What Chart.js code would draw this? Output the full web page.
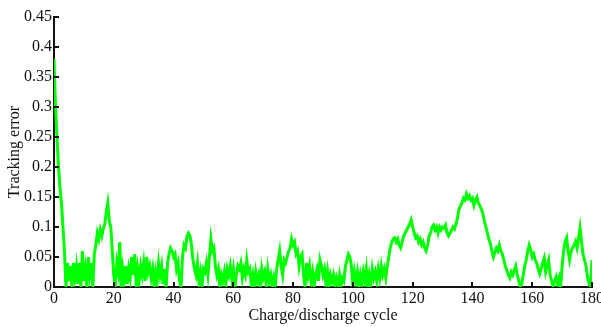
<!DOCTYPE html>
<html>
<head>
<meta charset="utf-8">
<script src="https://cdn.jsdelivr.net/npm/chart.js@4.4.1/dist/chart.umd.min.js"></script>
<style>
  html, body { margin: 0; padding: 0; background: #fff; }
  #wrap { width: 601px; height: 327px; }
</style>
</head>
<body>
<div id="wrap"><canvas id="can" width="601" height="327"></canvas></div>
<script>
// tracking error, one value every half cycle, 0 .. 180
const cycleStep = 0.5
const trackingError = [
  0.38, 0.30, 0.25, 0.20, 0.165, 0.14, 0.10, 0.06, 0.00, 0.04,
  0.01, 0.035, 0.00, 0.04, 0.015, 0.035, 0.005, 0.04, 0.00, 0.06,
  0.01, 0.03, 0.00, 0.05, 0.02, 0.04, 0.00, 0.055, 0.07, 0.09,
  0.08, 0.095, 0.085, 0.097, 0.105, 0.125, 0.14, 0.11, 0.10, 0.06,
  0.02, 0.00, 0.04, 0.025, 0.075, 0.00, 0.03, 0.01, 0.035, 0.005,
  0.03, 0.015, 0.05, 0.02, 0.055, 0.00, 0.03, 0.01, 0.035, 0.02,
  0.04, 0.01, 0.05, 0.025, 0.035, 0.015, 0.03, 0.00, 0.025, 0.01,
  0.04, 0.02, 0.035, 0.005, 0.03, 0.00, 0.04, 0.055, 0.065, 0.06,
  0.05, 0.055, 0.03, 0.04, 0.01, 0.00, 0.05, 0.07, 0.065, 0.085,
  0.09, 0.085, 0.07, 0.045, 0.03, 0.02, 0.04, 0.01, 0.025, 0.00,
  0.03, 0.025, 0.04, 0.02, 0.05, 0.08, 0.06, 0.065, 0.035, 0.02,
  0.03, 0.00, 0.02, 0.01, 0.025, 0.005, 0.03, 0.02, 0.035, 0.015,
  0.03, 0.00, 0.02, 0.035, 0.03, 0.04, 0.015, 0.03, 0.02, 0.045,
  0.025, 0.03, 0.005, 0.02, 0.00, 0.025, 0.01, 0.02, 0.00, 0.03,
  0.015, 0.025, 0.005, 0.03, 0.01, 0.02, 0.00, 0.015, 0.00, 0.03,
  0.045, 0.06, 0.035, 0.02, 0.045, 0.04, 0.05, 0.06, 0.065, 0.08,
  0.07, 0.075, 0.055, 0.06, 0.035, 0.05, 0.055, 0.02, 0.00, 0.04,
  0.02, 0.035, 0.01, 0.025, 0.00, 0.02, 0.03, 0.01, 0.045, 0.035,
  0.02, 0.03, 0.005, 0.025, 0.00, 0.02, 0.01, 0.02, 0.00, 0.015,
  0.005, 0.02, 0.00, 0.015, 0.01, 0.035, 0.045, 0.055, 0.05, 0.035,
  0.00, 0.025, 0.01, 0.025, 0.00, 0.02, 0.005, 0.025, 0.01, 0.03,
  0.00, 0.02, 0.005, 0.03, 0.015, 0.025, 0.01, 0.03, 0.015, 0.035,
  0.02, 0.03, 0.015, 0.035, 0.05, 0.065, 0.075, 0.08, 0.082, 0.075,
  0.08, 0.07, 0.065, 0.075, 0.085, 0.09, 0.095, 0.10, 0.105, 0.112,
  0.10, 0.09, 0.082, 0.085, 0.075, 0.08, 0.07, 0.075, 0.065, 0.06,
  0.07, 0.085, 0.09, 0.10, 0.103, 0.095, 0.10, 0.09, 0.10, 0.095,
  0.10, 0.098, 0.103, 0.09, 0.085, 0.09, 0.095, 0.10, 0.097, 0.105,
  0.115, 0.13, 0.135, 0.14, 0.148, 0.145, 0.155, 0.148, 0.152, 0.145,
  0.148, 0.136, 0.145, 0.15, 0.14, 0.135, 0.13, 0.122, 0.11, 0.10,
  0.09, 0.08, 0.072, 0.06, 0.05, 0.058, 0.065, 0.06, 0.07, 0.06,
  0.055, 0.045, 0.035, 0.028, 0.02, 0.015, 0.025, 0.02, 0.028, 0.035,
  0.02, 0.01, 0.00, 0.005, 0.02, 0.035, 0.045, 0.06, 0.07, 0.062,
  0.05, 0.055, 0.045, 0.04, 0.03, 0.022, 0.03, 0.04, 0.048, 0.025,
  0.035, 0.045, 0.02, 0.01, 0.00, 0.01, 0.017, 0.005, 0.015, 0.00,
  0.035, 0.06, 0.075, 0.082, 0.06, 0.045, 0.06, 0.065, 0.07, 0.076,
  0.065, 0.08, 0.098, 0.075, 0.055, 0.045, 0.035, 0.017, 0.005, 0.00,
  0.045
]

const xTicks = [0, 20, 40, 60, 80, 100, 120, 140, 160, 180]
const yTickLabels = ['0', '0.05', '0.1', '0.15', '0.2', '0.25', '0.3', '0.35', '0.4', '0.45']

let punkte = trackingError.map((v, i) => ({ x: i * cycleStep, y: v }))

// matlab style ticks, pointing into the plot
const innenTicks = {
  id: 'innenTicks',
  afterDraw(chart) {
    const ctx = chart.ctx
    const xs = chart.scales.x
    const ys = chart.scales.y
    const area = chart.chartArea
    ctx.save()
    ctx.strokeStyle = '#111'
    ctx.lineWidth = 2
    ctx.beginPath()
    xs.ticks.forEach(t => {
      const px = Math.round(xs.getPixelForValue(t.value))
      ctx.moveTo(px, area.bottom)
      ctx.lineTo(px, area.bottom - 5)
    })
    ys.ticks.forEach(t => {
      const py = Math.round(ys.getPixelForValue(t.value))
      ctx.moveTo(area.left, py)
      ctx.lineTo(area.left + 5, py)
    })
    ctx.stroke()
    ctx.restore()
  }
}

const schrift = { family: "'Liberation Serif', 'DejaVu Serif', serif", size: 16 }

const config = {
  type: 'line',
  data: {
    datasets: [{
      data: punkte,
      borderColor: '#00ff00',
      borderWidth: 3,
      pointRadius: 0,
      tension: 0,
      fill: false
    }]
  },
  options: {
    responsive: false,
    animation: false,
    parsing: false,
    layout: { padding: { top: 17, right: 9, left: 0, bottom: 0 } },
    plugins: {
      legend: { display: false },
      tooltip: { enabled: false }
    },
    scales: {
      x: {
        type: 'linear',
        min: 0,
        max: 180,
        afterBuildTicks: s => { s.ticks = xTicks.map(v => ({ value: v })) },
        afterFit: s => { s.height = 40; s.paddingLeft = 0; s.paddingRight = 0 },
        grid: { display: false, drawTicks: false },
        border: { display: true, color: '#111', width: 2 },
        ticks: { color: '#111', font: schrift, padding: 2, maxRotation: 0, autoSkip: false },
        title: {
          display: true,
          text: 'Charge/discharge cycle',
          color: '#111',
          font: schrift,
          padding: { top: 0, bottom: 2 }
        }
      },
      y: {
        min: 0,
        max: 0.45,
        afterBuildTicks: s => { s.ticks = yTickLabels.map(l => ({ value: parseFloat(l) })) },
        afterFit: s => { s.width = 54; s.paddingTop = 0; s.paddingBottom = 0 },
        grid: { display: false, drawTicks: false },
        border: { display: true, color: '#111', width: 2 },
        ticks: {
          color: '#111',
          font: schrift,
          padding: 2,
          autoSkip: false,
          callback: (value, index) => yTickLabels[index]
        },
        title: {
          display: true,
          text: 'Tracking error',
          color: '#111',
          font: schrift,
          padding: { top: 5, bottom: 0 }
        }
      }
    }
  },
  plugins: [innenTicks]
}

let chart = new Chart(document.getElementById('can'), config)
</script>
</body>
</html>
